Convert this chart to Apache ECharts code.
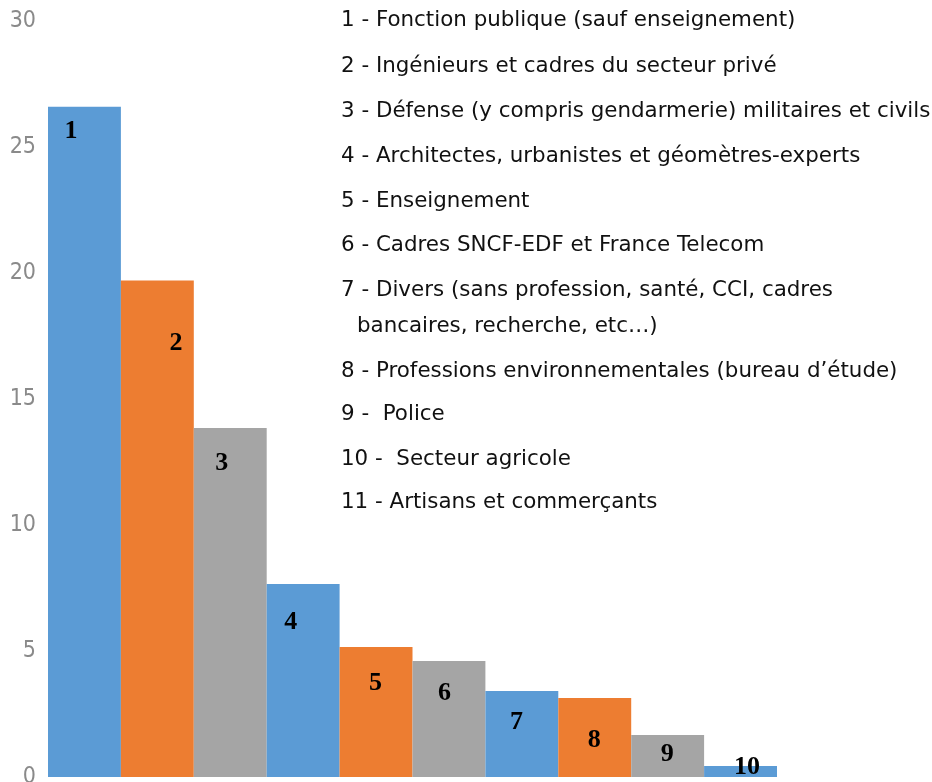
<!DOCTYPE html>
<html>
<head>
<meta charset="utf-8">
<script src="https://cdn.jsdelivr.net/npm/echarts@6/dist/echarts.min.js"></script>
<style>
html,body{margin:0;padding:0;background:#fff;}
#chart{width:932px;height:782px;}
</style>
</head>
<body>
<div id="chart"></div>
<script>
// ---- data ----
var categories = ['1','2','3','4','5','6','7','8','9','10'];
var values = [26.6, 19.7, 13.85, 7.66, 5.16, 4.6, 3.41, 3.13, 1.67, 0.44];
var yTicks = [0, 5, 10, 15, 20, 25, 30];
var legendLines = [
  '1 - Fonction publique (sauf enseignement)',
  '2 - Ingénieurs et cadres du secteur privé',
  '3 - Défense (y compris gendarmerie) militaires et civils',
  '4 - Architectes, urbanistes et géomètres-experts',
  '5 - Enseignement',
  '6 - Cadres SNCF-EDF et France Telecom',
  '7 - Divers (sans profession, santé, CCI, cadres',
  'bancaires, recherche, etc…)',
  '8 - Professions environnementales (bureau d’étude)',
  '9 -  Police',
  '10 -  Secteur agricole',
  '11 - Artisans et commerçants'
];

// ---- styling ----
var palette = ['#5B9BD5', '#ED7D31', '#A5A5A5'];
// label placement inside each bar (offset from bar's top-left corner)
var labelPos = [[23,25],[55,63],[28,35],[24,38],[36,36],[32,32],[31,31],[36,42],[36,19],[43,1]];
var legendY = [20,66,111,156,201,245,290,326,371,414,459,502];
var legendX = [341,341,341,341,341,341,341,357,341,341,341,341];

var chart = echarts.init(document.getElementById('chart'), null, {renderer:'canvas'});

var seriesData = values.map(function(v, i){
  return {
    value: v,
    itemStyle: { color: palette[i % 3] },
    label: { position: labelPos[i] }
  };
});

var graphics = legendLines.map(function(t, i){
  return {
    type: 'text',
    x: legendX[i],
    y: legendY[i],
    style: {
      text: t,
      fill: '#111',
      verticalAlign: 'middle',
      align: 'left',
      font: '21.4px "DejaVu Sans", sans-serif'
    }
  };
});

chart.setOption({
  animation: false,
  backgroundColor: '#fff',
  grid: { left: 48, right: 155, top: 21, bottom: 5, containLabel: false, outerBoundsMode: 'none' },
  xAxis: {
    type: 'category',
    data: categories,
    axisLine: { show: false },
    axisTick: { show: false },
    axisLabel: { show: false },
    splitLine: { show: false }
  },
  yAxis: {
    type: 'value',
    min: yTicks[0],
    max: yTicks[yTicks.length - 1],
    interval: 5,
    axisLine: { show: false },
    axisTick: { show: false },
    splitLine: { show: false },
    axisLabel: {
      margin: 12,
      color: '#8a8a8a',
      fontSize: 23,
      fontFamily: '"Liberation Sans Narrow", "DejaVu Sans Condensed", sans-serif'
    }
  },
  series: [{
    type: 'bar',
    data: seriesData,
    barCategoryGap: '0%',
    barGap: '0%',
    label: {
      show: true,
      formatter: function(p){ return categories[p.dataIndex]; },
      align: 'center',
      verticalAlign: 'middle',
      color: '#000',
      fontSize: 26,
      fontWeight: 'bold',
      fontFamily: '"Liberation Serif", "Times New Roman", serif'
    }
  }],
  graphic: graphics
});
</script>
</body>
</html>
